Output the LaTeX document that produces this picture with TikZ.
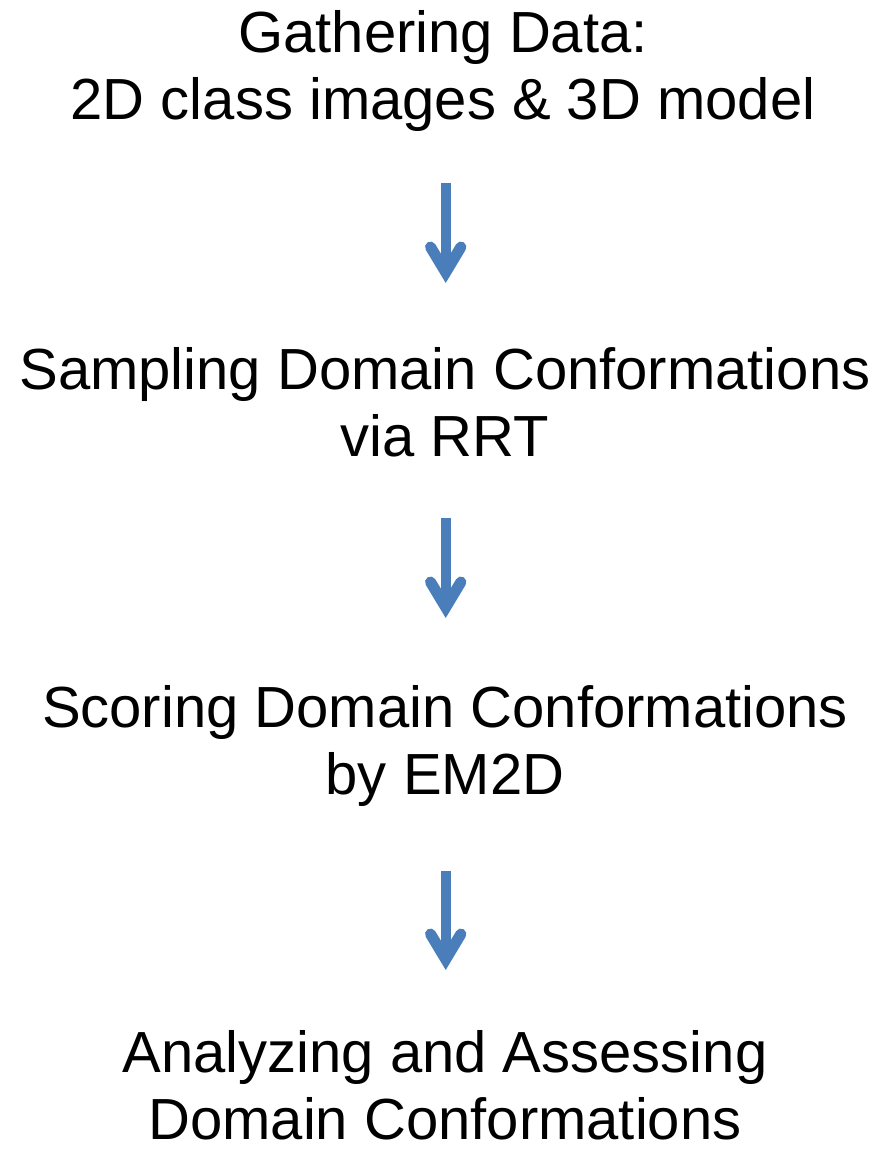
\documentclass[tikz,border=0pt]{standalone}
\usepackage{fontspec}
\setmainfont{Liberation Sans}
\usetikzlibrary{calc}
\definecolor{arrowblue}{RGB}{74,126,187}
\tikzset{
  stage/.style={font=\fontsize{58}{67}\selectfont, align=center, inner sep=0pt, anchor=base},
  shaft/.style={draw=arrowblue, line width=10pt, line cap=butt},
  barb/.style={draw=arrowblue, line width=11pt, line cap=round, line join=miter},
}
\newcommand{\flowarrow}[2]{%
  \draw[shaft] (#1) -- ($(#2)+(0,-12)$);
  \draw[barb] ($(#2)+(-15.2,-36)$) -- ($(#2)+(0,-10.7)$) -- ($(#2)+(15.2,-36)$);
}
\begin{document}
\begin{tikzpicture}[x=1pt,y=-1pt]
\fill[white] (0,0) rectangle (882,1149);
\useasboundingbox (0,0) rectangle (882,1149);
% anchor=base is the baseline of the last line
\node[stage] (gather) at (443,119) {Gathering Data:\\2D class images \& 3D model};
\node[stage] (sample) at (445,456) {Sampling Domain Conformations\\via RRT};
\node[stage] (score) at (445,794) {Scoring Domain Conformations\\by EM2D};
\node[stage] (analyze) at (445,1139) {Analyzing and Assessing\\Domain Conformations};
\coordinate (a1s) at (445.7,183);
\coordinate (a1e) at (445.7,283);
\coordinate (a2s) at (445.7,518);
\coordinate (a2e) at (445.7,618);
\coordinate (a3s) at (445.7,871);
\coordinate (a3e) at (445.7,970);
\flowarrow{a1s}{a1e}
\flowarrow{a2s}{a2e}
\flowarrow{a3s}{a3e}
\end{tikzpicture}
\end{document}
